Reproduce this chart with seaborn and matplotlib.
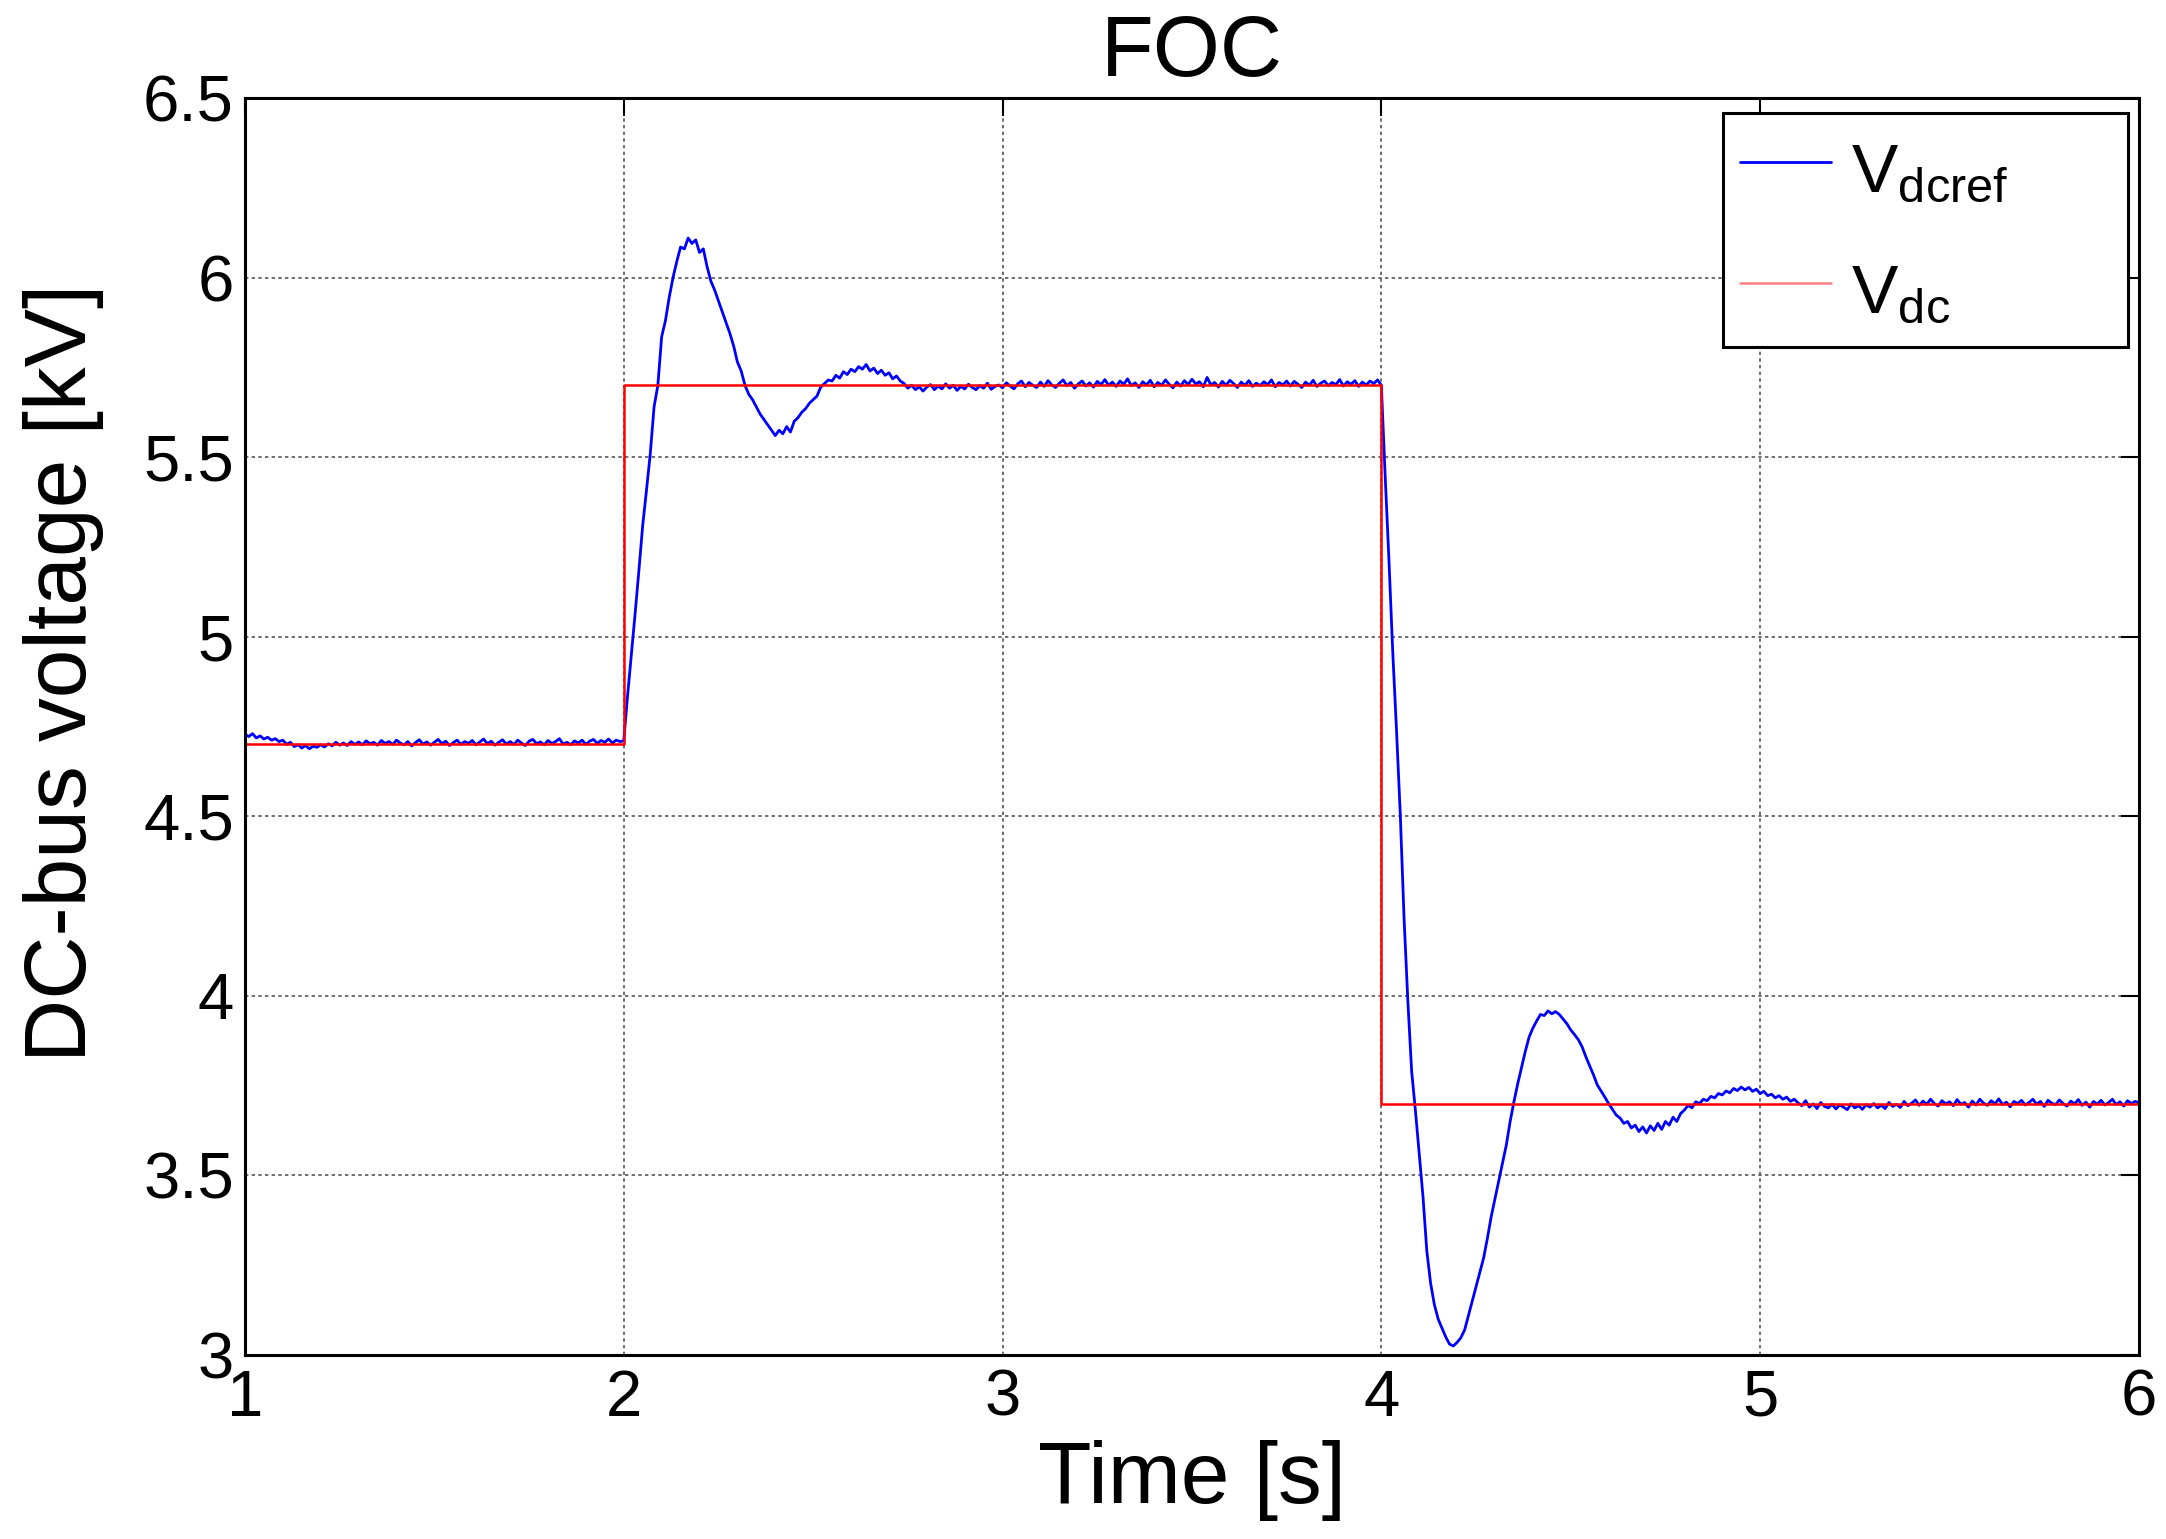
import numpy as np
import pandas as pd
import seaborn as sns
import matplotlib.pyplot as plt

# time grid of the measured trace (10 ms samples)
t_meas = np.round(np.arange(100, 601) / 100.0, 2)

# blue trace, one row per 0.1 s
v_meas = [
    4.728, 4.722, 4.730, 4.718, 4.724, 4.715, 4.720, 4.712, 4.716, 4.708,
    4.712, 4.700, 4.706, 4.694, 4.699, 4.690, 4.697, 4.688, 4.695, 4.692,
    4.699, 4.693, 4.702, 4.696, 4.706, 4.698, 4.704, 4.697, 4.708, 4.700,
    4.707, 4.699, 4.710, 4.702, 4.706, 4.698, 4.711, 4.703, 4.708, 4.700,
    4.712, 4.704, 4.699, 4.708, 4.696, 4.705, 4.713, 4.701, 4.707, 4.698,
    4.706, 4.714, 4.702, 4.709, 4.697, 4.705, 4.712, 4.700, 4.708, 4.703,
    4.711, 4.699, 4.707, 4.715, 4.702, 4.709, 4.698, 4.706, 4.713, 4.701,
    4.708, 4.700, 4.712, 4.704, 4.697, 4.709, 4.714, 4.702, 4.707, 4.699,
    4.711, 4.703, 4.708, 4.716, 4.701, 4.706, 4.699, 4.710, 4.704, 4.712,
    4.700, 4.709, 4.714, 4.703, 4.711, 4.706, 4.715, 4.704, 4.712, 4.708,
    4.710, 4.835, 4.950, 5.065, 5.185, 5.310, 5.408, 5.510, 5.640, 5.700,
    5.835, 5.880, 5.945, 6.000, 6.045, 6.085, 6.080, 6.110, 6.095, 6.105,
    6.070, 6.080, 6.030, 5.990, 5.965, 5.935, 5.905, 5.875, 5.845, 5.810,
    5.765, 5.740, 5.700, 5.675, 5.660, 5.640, 5.620, 5.605, 5.590, 5.575,
    5.560, 5.575, 5.565, 5.585, 5.570, 5.600, 5.610, 5.625, 5.635, 5.650,
    5.660, 5.670, 5.695, 5.705, 5.715, 5.712, 5.728, 5.720, 5.738, 5.730,
    5.745, 5.738, 5.752, 5.745, 5.758, 5.740, 5.748, 5.733, 5.742, 5.728,
    5.735, 5.718, 5.726, 5.712, 5.705, 5.692, 5.700, 5.688, 5.696, 5.684,
    5.695, 5.702, 5.688, 5.698, 5.690, 5.704, 5.692, 5.700, 5.686, 5.697,
    5.690, 5.703, 5.694, 5.688, 5.699, 5.692, 5.706, 5.689, 5.697, 5.701,
    5.693, 5.707, 5.698, 5.690, 5.704, 5.712, 5.696, 5.708, 5.700, 5.694,
    5.709, 5.697, 5.713, 5.701, 5.694, 5.706, 5.715, 5.699, 5.708, 5.692,
    5.704, 5.712, 5.698, 5.707, 5.695, 5.711, 5.702, 5.716, 5.700, 5.709,
    5.697, 5.712, 5.703, 5.718, 5.699, 5.707, 5.694, 5.710, 5.701, 5.714,
    5.696, 5.708, 5.700, 5.715, 5.703, 5.693, 5.709, 5.698, 5.713, 5.702,
    5.717, 5.704, 5.710, 5.696, 5.722, 5.701, 5.708, 5.695, 5.711, 5.700,
    5.714, 5.705, 5.694, 5.709, 5.700, 5.713, 5.697, 5.706, 5.699, 5.710,
    5.702, 5.715, 5.696, 5.708, 5.701, 5.712, 5.698, 5.711, 5.703, 5.694,
    5.709, 5.700, 5.714, 5.697, 5.706, 5.712, 5.699, 5.708, 5.702, 5.716,
    5.698, 5.710, 5.703, 5.713, 5.697, 5.709, 5.701, 5.712, 5.705, 5.715,
    5.700, 5.450, 5.215, 4.960, 4.740, 4.505, 4.215, 3.985, 3.790, 3.680,
    3.560, 3.440, 3.290, 3.200, 3.140, 3.100, 3.075, 3.050, 3.030, 3.025,
    3.035, 3.048, 3.070, 3.110, 3.150, 3.190, 3.230, 3.270, 3.325, 3.385,
    3.435, 3.485, 3.535, 3.585, 3.650, 3.705, 3.755, 3.800, 3.845, 3.885,
    3.910, 3.930, 3.948, 3.945, 3.958, 3.950, 3.956, 3.948, 3.935, 3.922,
    3.905, 3.892, 3.878, 3.858, 3.830, 3.805, 3.780, 3.752, 3.735, 3.718,
    3.700, 3.684, 3.668, 3.660, 3.645, 3.650, 3.632, 3.640, 3.622, 3.635,
    3.618, 3.638, 3.625, 3.645, 3.628, 3.650, 3.640, 3.662, 3.650, 3.672,
    3.682, 3.695, 3.688, 3.705, 3.700, 3.712, 3.708, 3.720, 3.716, 3.728,
    3.724, 3.735, 3.730, 3.742, 3.736, 3.746, 3.738, 3.745, 3.734, 3.740,
    3.728, 3.734, 3.722, 3.726, 3.716, 3.722, 3.712, 3.718, 3.706, 3.712,
    3.702, 3.694, 3.708, 3.690, 3.699, 3.686, 3.703, 3.692, 3.688, 3.698,
    3.685, 3.696, 3.690, 3.683, 3.699, 3.688, 3.694, 3.684, 3.697, 3.690,
    3.700, 3.688, 3.695, 3.686, 3.703, 3.692, 3.698, 3.689, 3.706, 3.694,
    3.701, 3.710, 3.695, 3.707, 3.698, 3.712, 3.700, 3.693, 3.708, 3.699,
    3.705, 3.694, 3.711, 3.698, 3.703, 3.690, 3.707, 3.696, 3.712, 3.701,
    3.695, 3.708, 3.699, 3.713, 3.697, 3.704, 3.691, 3.706, 3.700, 3.709,
    3.696, 3.703, 3.712, 3.698, 3.706, 3.692, 3.709, 3.701, 3.697, 3.710,
    3.700, 3.693, 3.707, 3.699, 3.711, 3.695, 3.704, 3.690, 3.706, 3.698,
    3.709, 3.696, 3.703, 3.712, 3.697, 3.705, 3.693, 3.708, 3.700, 3.706,
    3.702,
]

# red step reference
t_step = [1.0, 2.0, 4.0, 6.0]
v_step = [4.7, 5.7, 3.7, 3.7]

x_ticks = [1, 2, 3, 4, 5, 6]
y_ticks = [3, 3.5, 4, 4.5, 5, 5.5, 6, 6.5]

sns.set_theme(style='white')
plt.rcParams['font.family'] = ['Liberation Sans', 'DejaVu Sans']
plt.rcParams['mathtext.fontset'] = 'custom'
plt.rcParams['mathtext.rm'] = 'Liberation Sans'
plt.rcParams['mathtext.it'] = 'Liberation Sans:italic'
plt.rcParams['text.color'] = 'black'
plt.rcParams['axes.labelcolor'] = 'black'

meas_df = pd.DataFrame({'t': t_meas, 'v': v_meas})
step_df = pd.DataFrame({'t': t_step, 'v': v_step})

fig = plt.figure(figsize=(21.66, 15.39), dpi=100)
ax = fig.add_axes([0.1131, 0.1196, 0.8744, 0.8167])

sns.lineplot(data=meas_df, x='t', y='v', ax=ax, color='#0000ff', lw=2.0,
             estimator=None, sort=False, label=r'$\mathrm{V}_{\mathrm{dcref}}$')
sns.lineplot(data=step_df, x='t', y='v', ax=ax, color='#ff0000', lw=1.8,
             estimator=None, sort=False, drawstyle='steps-post',
             label=r'$\mathrm{V}_{\mathrm{dc}}$')

ax.set_xlim(1, 6)
ax.set_ylim(3, 6.5)
ax.set_xticks(x_ticks)
ax.set_yticks(y_ticks)
ax.set_xticklabels([f'{v:g}' for v in x_ticks])
ax.set_yticklabels([f'{v:g}' for v in y_ticks])
ax.grid(True, color='#555555', lw=1.2, ls=(0, (2, 2)))
ax.tick_params(direction='in', length=13, width=1.5, top=True, right=True,
               labelsize=47, colors='black')
ax.tick_params(axis='x', pad=10)
ax.tick_params(axis='y', pad=8)
for s in ax.spines.values():
    s.set_visible(True)
    s.set_color('black')
    s.set_linewidth(2.2)

ax.set_title('FOC', fontsize=62, pad=16, color='black')
ax.set_xlabel('Time [s]', fontsize=63, va='baseline')
ax.xaxis.set_label_coords(0.5, -0.1177)
ax.set_ylabel('DC-bus voltage [kV]', fontsize=63)
ax.yaxis.set_label_coords(-0.0745, 0.5426)

# legend box stretched to the reference width
leg = ax.legend(loc='upper left', bbox_to_anchor=(0.7804, 0.888, 0.2138, 0.1),
                mode='expand', borderaxespad=0, fontsize=50, frameon=True,
                fancybox=False, framealpha=1, edgecolor='black',
                handlelength=1.3, handleheight=1.35, handletextpad=0.3,
                labelspacing=0.62, borderpad=0.25)
leg.get_frame().set_linewidth(2.2)
leg.get_lines()[1].set_color('#ff8080')

plt.savefig('out.png', dpi=100, facecolor='white')
